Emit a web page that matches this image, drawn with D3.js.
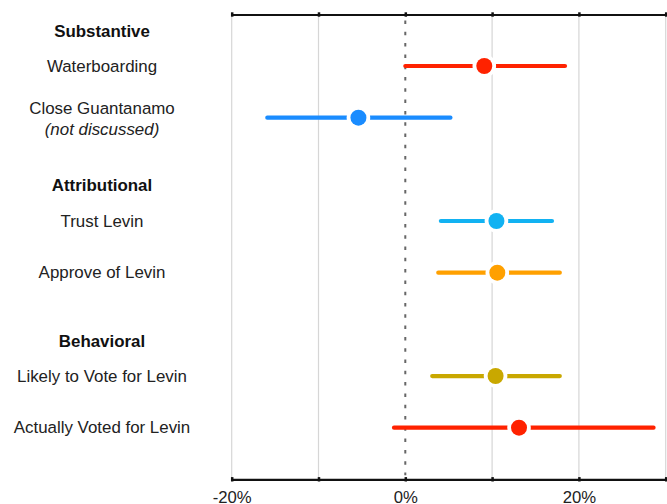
<!DOCTYPE html>
<html>
<head>
<meta charset="utf-8">
<script src="https://cdn.jsdelivr.net/npm/d3@7"></script>
<style>
  html, body { margin: 0; padding: 0; background: #fff; }
  svg { display: block; font-family: "Liberation Sans", Arial, Helvetica, sans-serif; }
</style>
</head>
<body>
<svg id="chart" width="667" height="504"></svg>
<script>
// Effects (percentage points) with confidence intervals
const rowLabels = ["Waterboarding", "Close Guantanamo", "Trust Levin", "Approve of Levin", "Likely to Vote for Levin", "Actually Voted for Levin"];
const rowNotes = ["", "(not discussed)", "", "", "", ""];
const estimates = [9.1, -5.4, 10.5, 10.6, 10.4, 13.1];
const lowerBounds = [0.0, -15.9, 4.1, 3.8, 3.1, -1.3];
const upperBounds = [18.4, 5.2, 16.9, 17.8, 17.8, 28.6];
const rowColors = ["#ff2200", "#1a8cff", "#12b2f2", "#ffa000", "#c9a800", "#ff2200"];
// Row positions on a slot scale (headers sit in their own slots)
const rowSlots = [1, 2, 4, 5, 7, 8];
const groupLabels = ["Substantive", "Attributional", "Behavioral"];
const groupSlots = [0.34, 3.32, 6.33];
const tickValues = [-20, -10, 0, 10, 20, 30];
const labeledTicks = [-20, 0, 20];

(function () {
  const svg = d3.select("#chart");
  const x = d3.scaleLinear().domain([-20, 30]).range([231.7, 665.7]);
  const y = d3.scaleLinear().domain([1, 8]).range([66, 427.7]);
  const axisTopY = 14.5, axisBottomY = 479.3;
  const labelX = 102;

  // vertical gridlines
  svg.append("g").selectAll("line")
    .data(tickValues.filter(d => d !== 0))
    .join("line")
    .attr("x1", d => x(d)).attr("x2", d => x(d))
    .attr("y1", axisTopY).attr("y2", axisBottomY)
    .attr("stroke", "#d6d6d6").attr("stroke-width", 1.2);

  // zero reference line
  svg.append("line")
    .attr("x1", x(0)).attr("x2", x(0))
    .attr("y1", axisTopY + 6).attr("y2", axisBottomY - 4)
    .attr("stroke", "#666").attr("stroke-width", 2)
    .attr("stroke-dasharray", "3.5,7.8");

  // axes
  const fmt = d => labeledTicks.includes(d) ? d + "%" : "";
  const topAxis = svg.append("g").attr("transform", `translate(0,${axisTopY})`)
    .call(d3.axisTop(x).tickValues(tickValues).tickFormat("").tickSize(2).tickSizeOuter(0));
  const botAxis = svg.append("g").attr("transform", `translate(0,${axisBottomY})`)
    .call(d3.axisBottom(x).tickValues(tickValues).tickFormat(fmt).tickSize(2).tickSizeOuter(0).tickPadding(10));
  [topAxis, botAxis].forEach(g => {
    g.select(".domain").attr("stroke", "#111").attr("stroke-width", 2.2);
    g.selectAll(".tick line").attr("stroke", "#111").attr("stroke-width", 2.5)
      .attr("y1", -2.2).attr("y2", 2.2);
  });
  botAxis.selectAll(".tick text")
    .attr("font-size", 16.7).attr("fill", "#222")
    .attr("font-family", "'Liberation Sans', Arial, sans-serif");

  // group headers
  svg.append("g").selectAll("text")
    .data(groupLabels)
    .join("text")
    .attr("x", labelX).attr("y", (d, i) => y(groupSlots[i]))
    .attr("text-anchor", "middle").attr("dominant-baseline", "central")
    .attr("font-size", 16.9).attr("font-weight", "bold").attr("fill", "#111")
    .text(d => d);

  // row labels
  const labels = svg.append("g").selectAll("g")
    .data(rowLabels.map((d, i) => i))
    .join("g");
  labels.append("text")
    .attr("x", labelX)
    .attr("y", i => y(rowSlots[i]) - (rowNotes[i] ? 9 : 0))
    .attr("text-anchor", "middle").attr("dominant-baseline", "central")
    .attr("font-size", 16.9).attr("fill", "#222")
    .text(i => rowLabels[i]);
  labels.filter(i => rowNotes[i]).append("text")
    .attr("x", labelX)
    .attr("y", i => y(rowSlots[i]) + 11.5)
    .attr("text-anchor", "middle").attr("dominant-baseline", "central")
    .attr("font-size", 16.9).attr("font-style", "italic").attr("fill", "#222")
    .text(i => rowNotes[i]);

  // intervals and point estimates
  const marks = svg.append("g").selectAll("g")
    .data(rowLabels.map((d, i) => i))
    .join("g");
  marks.append("line")
    .attr("x1", i => x(lowerBounds[i])).attr("x2", i => x(upperBounds[i]))
    .attr("y1", i => y(rowSlots[i])).attr("y2", i => y(rowSlots[i]))
    .attr("stroke", i => rowColors[i]).attr("stroke-width", 4.2)
    .attr("stroke-linecap", "round");
  marks.append("circle")
    .attr("cx", i => x(estimates[i])).attr("cy", i => y(rowSlots[i]))
    .attr("r", 11.8).attr("fill", "#fff");
  marks.append("circle")
    .attr("cx", i => x(estimates[i])).attr("cy", i => y(rowSlots[i]))
    .attr("r", 8).attr("fill", i => rowColors[i]);
})();
</script>
</body>
</html>
